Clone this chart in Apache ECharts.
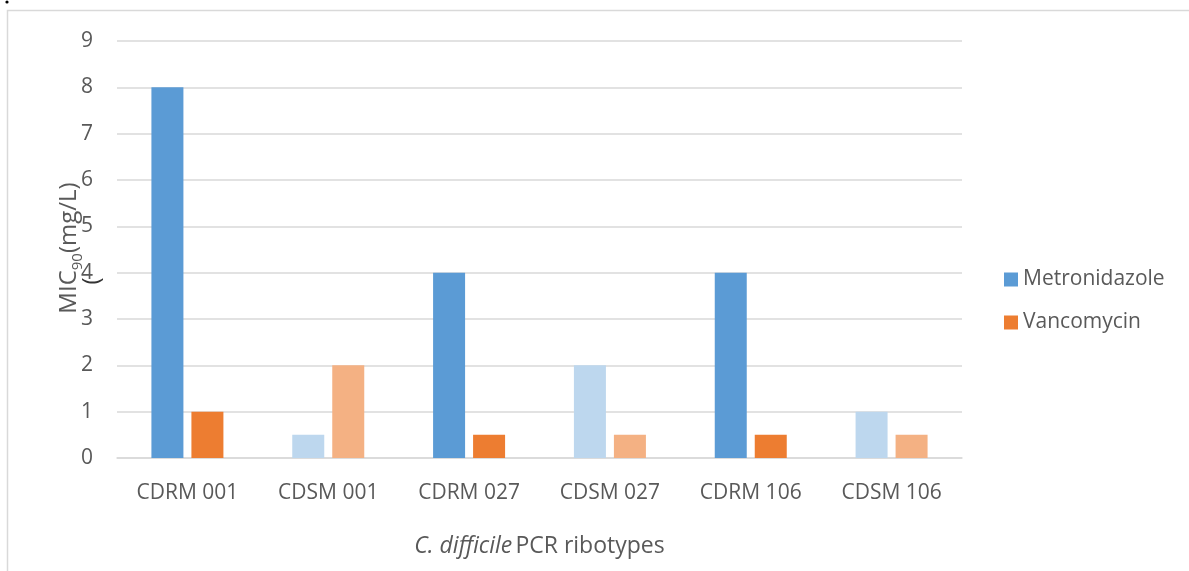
<!DOCTYPE html>
<html>
<head>
<meta charset="utf-8">
<script src="https://cdn.jsdelivr.net/npm/echarts@6/dist/echarts.min.js"></script>
<style>
  html, body { margin: 0; padding: 0; background: #fff; }
  #chart { width: 1189px; height: 571px; }
</style>
</head>
<body>
<div id="chart"></div>
<script>
// Ribotype categories along the x axis
const categories = ['CDRM 001', 'CDSM 001', 'CDRM 027', 'CDSM 027', 'CDRM 106', 'CDSM 106'];
// MIC90 values (mg/L)
const metronidazole = [8, 0.5, 4, 2, 4, 1];
const vancomycin = [1, 2, 0.5, 0.5, 0.5, 0.5];
// Y axis range
const yMin = 0, yMax = 9, yStep = 1;

const BLUE = '#5B9BD5', BLUE_LIGHT = '#BDD7EE';
const ORANGE = '#ED7D31', ORANGE_LIGHT = '#F4B183';
const TEXT = '#595959', GRID = '#D9D9D9';
const FONT = '"Open Sans", "Noto Sans", sans-serif';

// Sensitive (CDSM) strains are drawn in the lighter tint
const isSensitive = c => c.startsWith('CDSM');
const withTint = (vals, dark, light) => vals.map((v, i) => ({
  value: v,
  itemStyle: { color: isSensitive(categories[i]) ? light : dark }
}));

const chart = echarts.init(document.getElementById('chart'), null, { renderer: 'canvas' });
chart.setOption({
  animation: false,
  textStyle: { fontFamily: FONT },
  graphic: [
    { type: 'rect', shape: { x: 7.5, y: 10.5, width: 1300, height: 700 },
      style: { fill: 'none', stroke: GRID, lineWidth: 1.5 }, silent: true },
    { type: 'circle', shape: { cx: 7, cy: 2, r: 1.6 }, style: { fill: '#000' }, silent: true },
    { type: 'text', x: 92, y: 281, rotation: Math.PI / 2,
      style: { text: '(', fill: '#333', font: '24px ' + FONT, align: 'center', verticalAlign: 'middle' } },
    // Y axis title with subscripted 90
    { type: 'text', x: 66, y: 248, rotation: Math.PI / 2, silent: true,
      style: {
        text: '{a|MIC}{s|90}{a|(mg/L)}', align: 'center', verticalAlign: 'middle',
        rich: {
          a: { fontSize: 24, fill: TEXT, fontFamily: FONT, lineHeight: 30, verticalAlign: 'bottom' },
          s: { fontSize: 15, fill: TEXT, fontFamily: FONT, lineHeight: 30, verticalAlign: 'bottom', padding: [0, 0, -4, 0] }
        }
      } }
  ],
  grid: { left: 117, right: 227, top: 41, bottom: 113, containLabel: false },
  legend: {
    orient: 'vertical', left: 999, top: 264, itemGap: 22,
    itemWidth: 14, itemHeight: 14, icon: 'rect',
    textStyle: { color: TEXT, fontSize: 21, fontFamily: FONT },
    data: [
      { name: 'Metronidazole', itemStyle: { color: BLUE } },
      { name: 'Vancomycin', itemStyle: { color: ORANGE } }
    ]
  },
  xAxis: {
    type: 'category', data: categories,
    axisLine: { lineStyle: { color: GRID, width: 1.5 } },
    axisTick: { show: false },
    axisLabel: { color: TEXT, fontSize: 21, margin: 25, fontFamily: FONT },
    name: '{i|C. difficile} {n|PCR ribotypes}',
    nameLocation: 'middle', nameGap: 77, nameMoveOverlap: false,
    nameTextStyle: {
      rich: {
        i: { fontStyle: 'italic', fontSize: 23, color: TEXT, fontFamily: FONT },
        n: { fontSize: 23, color: TEXT, fontFamily: FONT }
      }
    }
  },
  yAxis: {
    type: 'value', min: yMin, max: yMax, interval: yStep,
    axisLine: { show: false }, axisTick: { show: false },
    splitLine: { lineStyle: { color: GRID, width: 1.5 } },
    axisLabel: { color: TEXT, fontSize: 21, margin: 24, fontFamily: FONT }
  },
  series: [
    { name: 'Metronidazole', type: 'bar', data: withTint(metronidazole, BLUE, BLUE_LIGHT),
      barWidth: 32, barGap: '25%', itemStyle: { color: BLUE } },
    { name: 'Vancomycin', type: 'bar', data: withTint(vancomycin, ORANGE, ORANGE_LIGHT),
      barWidth: 32, barGap: '25%', itemStyle: { color: ORANGE } }
  ]
});
</script>
</body>
</html>
